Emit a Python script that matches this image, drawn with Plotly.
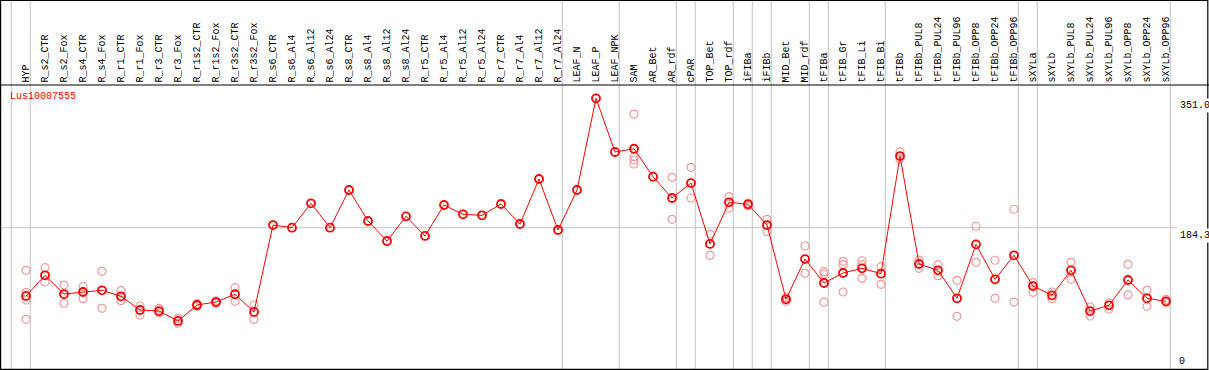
import plotly.graph_objects as go

categories = [
    "HYP", "R_s2_CTR", "R_s2_Fox", "R_s4_CTR", "R_s4_Fox", "R_r1_CTR", "R_r1_Fox",
    "R_r3_CTR", "R_r3_Fox", "R_r1s2_CTR", "R_r1s2_Fox", "R_r3s2_CTR", "R_r3s2_Fox",
    "R_s6_CTR", "R_s6_Al4", "R_s6_Al12", "R_s6_Al24",
    "R_s8_CTR", "R_s8_Al4", "R_s8_Al12", "R_s8_Al24",
    "R_r5_CTR", "R_r5_Al4", "R_r5_Al12", "R_r5_Al24",
    "R_r7_CTR", "R_r7_Al4", "R_r7_Al12", "R_r7_Al24",
    "LEAF_N", "LEAF_P", "LEAF_NPK", "SAM", "AR_Bet", "AR_rdf", "cPAR",
    "TOP_Bet", "TOP_rdf", "iFIBa", "iFIBb", "MID_Bet", "MID_rdf",
    "tFIBa", "tFIB_Gr", "tFIB_Li", "tFIB_Bi", "tFIBb",
    "tFIBb_PUL8", "tFIBb_PUL24", "tFIBb_PUL96", "tFIBb_OPP8", "tFIBb_OPP24", "tFIBb_OPP96",
    "sXYLa", "sXYLb", "sXYLb_PUL8", "sXYLb_PUL24", "sXYLb_PUL96",
    "sXYLb_OPP8", "sXYLb_OPP24", "sXYLb_OPP96",
]

means = [
    96.4, 123.0, 98.9, 101.5, 103.7, 96.0, 78.3, 77.0, 64.2, 84.8, 88.6, 98.6, 75.8,
    187.8, 184.4, 215.8, 184.4,
    232.9, 193.0, 167.2, 199.0,
    173.7, 213.6, 201.6, 200.3,
    214.9, 189.1, 247.1, 181.4,
    232.9, 351.0, 281.9,
    286.1, 250.1, 222.6, 241.9, 163.4, 217.1, 214.5, 187.8, 92.1, 144.0,
    113.1, 126.0, 132.0, 125.1,
    276.7, 137.6, 129.5, 93.4, 162.9, 117.9, 148.8,
    109.2, 97.3, 129.5, 77.0, 84.4, 117.0, 93.4, 89.5,
]

replicates = [
    [129.5, 101.1, 91.2, 66.3], [132.8, 114.4], [110.5, 87.0], [108.4, 92.9],
    [128.2, 80.5], [103.2, 90.3], [83.5, 71.9], [80.5, 74.9], [67.6, 61.2],
    [86.5, 83.0], [90.0, 87.0], [107.1, 89.5], [84.8, 66.3],
    [], [], [], [],
    [], [], [], [],
    [], [], [], [],
    [], [], [], [],
    [], [], [],
    [330.8, 275.8, 271.6, 266.4], [], [249.3, 195.2], [262.2, 222.6],
    [176.2, 148.8], [224.3, 209.7], [216.0, 212.5], [195.2, 179.2],
    [94.5, 89.5], [160.8, 125.6],
    [127.7, 124.7, 88.6], [141.1, 136.7, 101.5], [141.8, 136.7, 119.2], [134.1, 111.4],
    [282.0, 273.0], [142.7, 132.0], [136.7, 122.5], [116.6, 70.2],
    [186.2, 139.8], [142.4, 93.4], [208.1, 88.6],
    [113.5, 101.1], [101.5, 92.9], [139.8, 117.9], [82.2, 70.6],
    [87.7, 79.6], [137.2, 97.7], [103.7, 83.1], [92.1, 88.0],
]

# group separators: a vertical line follows each of these category indices
separators_after = [-1, 0, 28, 31, 34, 35, 37, 38, 39, 41, 42, 45, 52, 53, 60]

y_ticks = [351.0, 184.3, 0]
gene_name = "Lus10007555"

W, H = 1209, 370
HEADER = 85
FONT = "Liberation Mono"

rep_x, rep_y = [], []
for cat, reps in zip(categories, replicates):
    for v in reps:
        rep_x.append(cat)
        rep_y.append(v)

fig = go.Figure()
fig.add_trace(go.Scatter(
    x=rep_x, y=rep_y, mode="markers",
    marker=dict(symbol="circle-open", size=8, color="#f09a9a", line=dict(width=1.2)),
    hoverinfo="skip", showlegend=False,
))
fig.add_trace(go.Scatter(
    x=categories, y=means, mode="lines+markers",
    line=dict(color="#ff0000", width=1),
    marker=dict(symbol="circle-open", size=8, color="#ff0000", line=dict(width=1.8)),
    showlegend=False,
))

px_per_cat = 19.0
first_px = 26.0
x_lo = -first_px / px_per_cat
x_hi = (W - first_px) / px_per_cat

# y scale: 0 at ~370.8px, 0.7762 px per unit
y_lo = (370.8 - H) / 0.7762
y_hi = (370.8 - HEADER) / 0.7762

shapes = []
for s in separators_after:
    shapes.append(dict(type="line", xref="x", yref="paper", x0=s + 0.226, x1=s + 0.226,
                       y0=0, y1=1, line=dict(color="#c4c4c4", width=1), layer="below"))
shapes.append(dict(type="line", xref="paper", yref="y", x0=0, x1=1177 / W,
                   y0=y_ticks[1], y1=y_ticks[1], line=dict(color="#c4c4c4", width=1), layer="below"))
# frame and header separator
shapes.append(dict(type="rect", xref="paper", yref="paper", x0=0.6 / W, x1=(W - 1.2) / W,
                   y0=0.6 / H, y1=1 - 0.5 / H, line=dict(color="black", width=1.2)))
shapes.append(dict(type="line", xref="paper", yref="paper", x0=0, x1=1,
                   y0=1 - HEADER / H, y1=1 - HEADER / H, line=dict(color="black", width=1.2)))

annotations = []
for cat in categories:
    annotations.append(dict(
        x=cat, xref="x", y=1 - 83.5 / H, yref="paper", text=cat, textangle=-90,
        xanchor="center", yanchor="bottom", showarrow=False,
        font=dict(family=FONT, size=10, color="black"), borderpad=0,
    ))
annotations.append(dict(
    x=9 / W, xref="paper", y=1 - 96.7 / H, yref="paper", text=gene_name,
    xanchor="left", yanchor="middle", showarrow=False,
    font=dict(family=FONT, size=10, color="#ff0000"), borderpad=0,
))
annotations.append(dict(x=1178 / W, xref="paper", y=y_ticks[0], yref="y", text=f"{y_ticks[0]:.1f}",
                        xanchor="left", yanchor="top", showarrow=False, bgcolor="white",
                        font=dict(family=FONT, size=10, color="black"), borderpad=1))
annotations.append(dict(x=1178 / W, xref="paper", y=y_ticks[1], yref="y", text=f"{y_ticks[1]:.1f}",
                        xanchor="left", yanchor="top", showarrow=False, bgcolor="white",
                        font=dict(family=FONT, size=10, color="black"), borderpad=1))
annotations.append(dict(x=1178 / W, xref="paper", y=1 - 367.5 / H, yref="paper", text=f"{y_ticks[2]}",
                        xanchor="left", yanchor="bottom", showarrow=False,
                        font=dict(family=FONT, size=10, color="black"), borderpad=0))

fig.update_layout(
    width=W, height=H,
    margin=dict(l=0, r=0, t=0, b=0),
    paper_bgcolor="white", plot_bgcolor="white",
    xaxis=dict(type="category", categoryorder="array", categoryarray=categories,
               range=[x_lo, x_hi], showgrid=False, zeroline=False, showticklabels=False,
               showline=False, ticks=""),
    yaxis=dict(domain=[0, 1 - HEADER / H], range=[y_lo, y_hi], showgrid=False,
               zeroline=False, showticklabels=False, showline=False, ticks=""),
    shapes=shapes, annotations=annotations,
    font=dict(family=FONT, size=10),
)

fig.write_html(
    "out.html",
    config={"displayModeBar": False},
    post_script="document.body.style.margin='0';document.body.style.overflow='hidden';",
)
